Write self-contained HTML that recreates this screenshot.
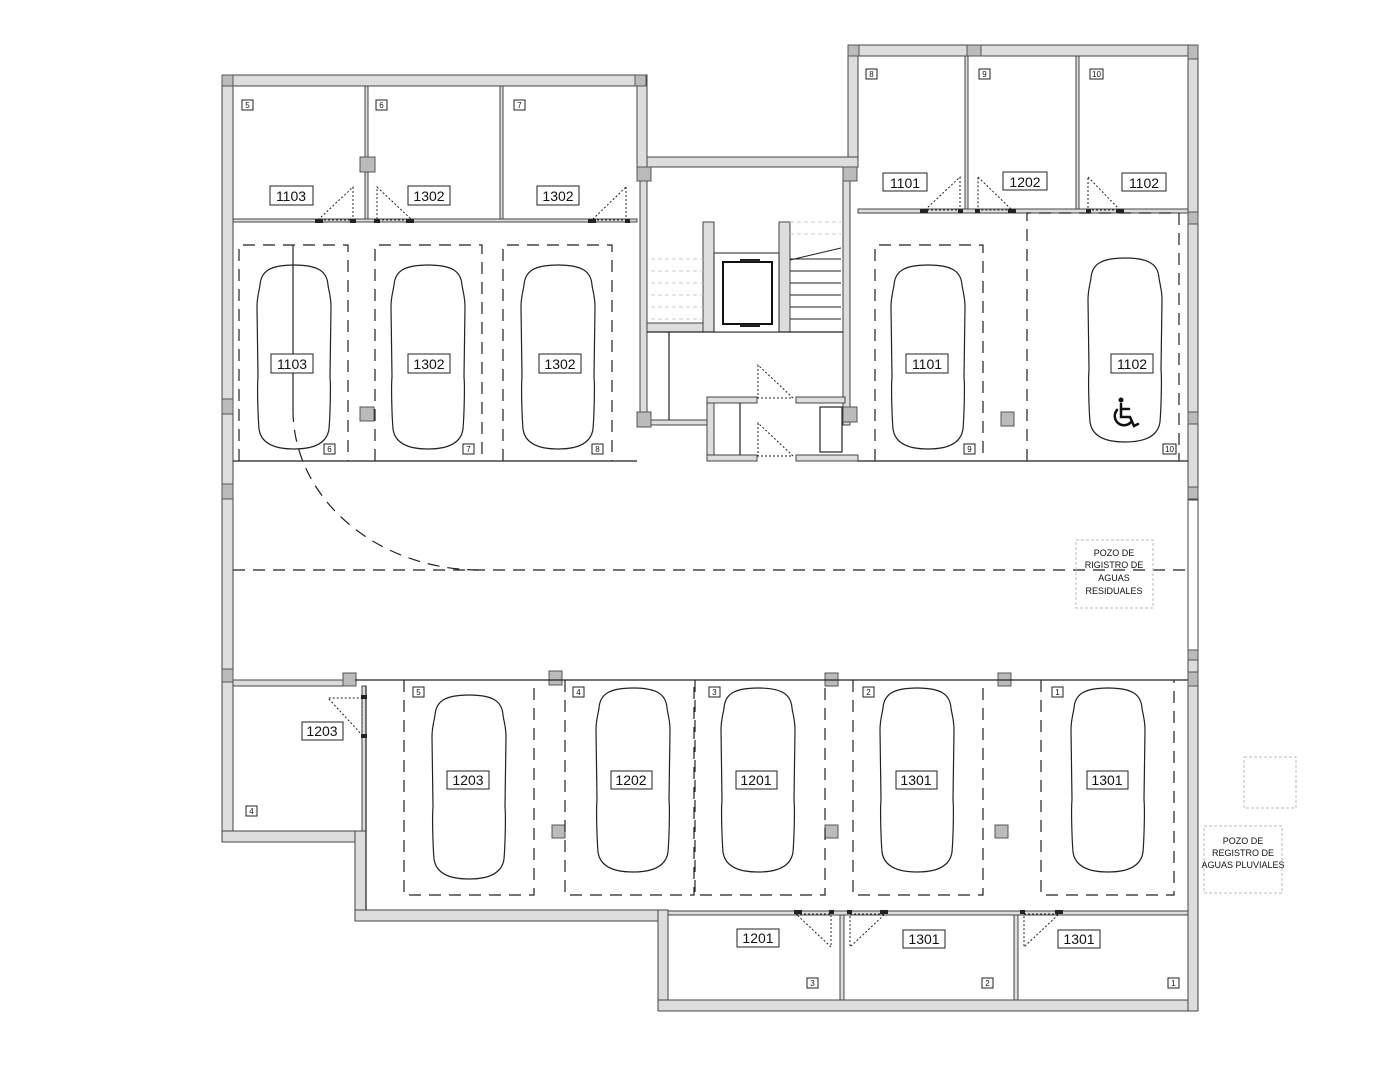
<!DOCTYPE html>
<html><head><meta charset="utf-8"><style>body{margin:0;background:#fff}svg{display:block}text{font-family:"Liberation Sans",sans-serif;fill:#111}</style></head><body>
<svg width="1383" height="1066" viewBox="0 0 1383 1066" xmlns="http://www.w3.org/2000/svg">
<defs>
<path id="car" d="M0,-92 C25,-92 33,-85 34,-72 C35,-65 37,-60 37,-50 L36,20 C37,30 36,60 35,72 C33,86 20,92 0,92 C-20,92 -33,86 -35,72 C-36,60 -37,30 -36,20 L-37,-50 C-37,-60 -35,-65 -34,-72 C-33,-85 -25,-92 0,-92 Z" fill="none" stroke="#222" stroke-width="1.2"/>
</defs>
<g fill="#ddd" stroke="#444" stroke-width="1">
<rect x="222" y="75" width="423" height="11"/>
<rect x="222" y="75" width="11" height="767"/>
<rect x="222" y="831" width="144" height="11"/>
<rect x="355" y="831" width="11" height="90"/>
<rect x="355" y="910" width="313" height="11"/>
<rect x="658" y="910" width="10" height="101"/>
<rect x="658" y="1000" width="540" height="11"/>
<rect x="1188" y="45" width="10" height="966"/>
<rect x="848" y="45" width="350" height="11"/>
<rect x="848" y="45" width="10" height="122"/>
<rect x="637" y="157" width="221" height="10"/>
<rect x="637" y="75" width="10" height="92"/>
<rect x="233" y="219" width="404" height="3"/>
<rect x="365" y="86" width="3" height="133"/>
<rect x="500" y="86" width="3" height="133"/>
<rect x="858" y="209" width="330" height="4"/>
<rect x="965" y="56" width="3" height="153"/>
<rect x="1076" y="56" width="3" height="153"/>
<rect x="233" y="680" width="122" height="6"/>
<rect x="362" y="686" width="4" height="145"/>
<rect x="668" y="911" width="520" height="4"/>
<rect x="840" y="915" width="4" height="85"/>
<rect x="1014" y="915" width="4" height="85"/>
<rect x="640" y="167" width="7" height="258"/>
<rect x="843" y="167" width="7" height="258"/>
<rect x="703" y="222" width="11" height="110"/>
<rect x="779" y="222" width="11" height="110"/>
<rect x="647" y="323" width="56" height="9"/>
<rect x="647" y="420" width="60" height="5"/>
<rect x="707" y="397" width="7" height="64"/>
<rect x="707" y="397" width="50" height="6"/>
<rect x="796" y="397" width="49" height="6"/>
<rect x="707" y="455" width="50" height="6"/>
<rect x="796" y="455" width="62" height="6"/>
</g>
<rect x="1188" y="500" width="10" height="150" fill="#fff" stroke="#444"/>
<g fill="#bbb" stroke="#555" stroke-width="1">
<rect x="222" y="75" width="11" height="11"/><rect x="635" y="75" width="11" height="11"/>
<rect x="360" y="157" width="15" height="15"/>
<rect x="637" y="167" width="14" height="14"/><rect x="843" y="167" width="14" height="14"/>
<rect x="637" y="412" width="14" height="15"/><rect x="843" y="407" width="14" height="15"/>
<rect x="848" y="45" width="11" height="11"/><rect x="967" y="45" width="14" height="11"/><rect x="1188" y="45" width="10" height="14"/>
<rect x="222" y="399" width="11" height="15"/><rect x="222" y="484" width="11" height="15"/><rect x="222" y="669" width="11" height="13"/>
<rect x="1188" y="212" width="10" height="12"/><rect x="1188" y="412" width="10" height="12"/><rect x="1188" y="487" width="10" height="12"/><rect x="1188" y="650" width="10" height="10"/><rect x="1188" y="672" width="10" height="14"/>
<rect x="360" y="407" width="14" height="14"/><rect x="1001" y="412" width="13" height="14"/>
<rect x="343" y="673" width="13" height="13"/><rect x="549" y="671" width="13" height="14"/><rect x="825" y="673" width="13" height="13"/><rect x="998" y="673" width="13" height="13"/>
<rect x="552" y="825" width="13" height="13"/><rect x="825" y="825" width="13" height="13"/><rect x="995" y="825" width="13" height="13"/>
</g>
<g stroke="#222" stroke-width="1.2" fill="none">
<line x1="233" y1="461" x2="637" y2="461"/>
<line x1="858" y1="461" x2="1188" y2="461"/>
<line x1="355" y1="680" x2="1188" y2="680"/>
<line x1="366" y1="686" x2="366" y2="910"/>
<line x1="647" y1="332" x2="843" y2="332"/>
<line x1="669" y1="332" x2="669" y2="420"/>
<rect x="820" y="407" width="22" height="45" fill="#fff"/>
<line x1="740" y1="403" x2="740" y2="455"/>
<g stroke-width="1"><line x1="790" y1="259" x2="841" y2="259"/><line x1="790" y1="271" x2="841" y2="271"/><line x1="790" y1="283" x2="841" y2="283"/><line x1="790" y1="295" x2="841" y2="295"/><line x1="790" y1="307" x2="841" y2="307"/><line x1="790" y1="319" x2="841" y2="319"/><line x1="790" y1="260" x2="841" y2="248"/></g>
<line x1="293" y1="245" x2="293" y2="410"/>
</g>
<rect x="714" y="253" width="65" height="79" fill="#fff" stroke="#222" stroke-width="1"/>
<rect x="723" y="262" width="49" height="62" fill="#fff" stroke="#111" stroke-width="2"/>
<g stroke="#ccc" stroke-width="1" stroke-dasharray="4,3" fill="none">
<line x1="651" y1="259" x2="703" y2="259"/><line x1="651" y1="271" x2="703" y2="271"/><line x1="651" y1="283" x2="703" y2="283"/><line x1="651" y1="295" x2="703" y2="295"/><line x1="651" y1="307" x2="703" y2="307"/><line x1="651" y1="319" x2="703" y2="319"/>
<line x1="790" y1="222" x2="841" y2="222"/><line x1="790" y1="234" x2="841" y2="234"/>
</g>
<g stroke="#222" stroke-width="1.2" fill="none" stroke-dasharray="12,8">
<path d="M239,461 V245 H348 V461"/><path d="M375,461 V245 H482 V461"/><path d="M503,461 V245 H612 V461"/>
<path d="M875,461 V245 H983 V461"/><path d="M1027,461 V213 H1179 V461"/>
<path d="M404,680 V895 H534 V680"/><path d="M565,680 V895 H694 V680"/><path d="M695,680 V895 H825 V680"/><path d="M853,680 V895 H983 V680"/><path d="M1041,680 V895 H1174 V680"/>
<line x1="233" y1="570" x2="1188" y2="570"/>
<path d="M293,410 A187,160 0 0 0 480,570"/>
</g>
<g stroke="#222" stroke-width="1" fill="none" stroke-dasharray="2,2">
<path d="M353,187 L353,220 L318,220 Z"/><path d="M377,187 L412,220 L377,220 Z"/><path d="M626,187 L626,220 L592,220 Z"/>
<path d="M960,177 L960,210 L925,210 Z"/><path d="M978,177 L1012,210 L978,210 Z"/><path d="M1088,177 L1120,210 L1088,210 Z"/>
<path d="M758,365 L758,398 L793,398 Z"/><path d="M758,423 L758,456 L793,456 Z"/>
<path d="M362,698 L362,735 L328,698 Z"/>
<path d="M796,914 L831,914 L831,947 Z"/><path d="M850,914 L885,914 L850,947 Z"/><path d="M1024,914 L1059,914 L1024,947 Z"/>
</g>
<g fill="#222"><rect x="315" y="219" width="8" height="4"/><rect x="350" y="219" width="6" height="4"/><rect x="374" y="219" width="6" height="4"/><rect x="406" y="219" width="8" height="4"/><rect x="588" y="219" width="8" height="4"/><rect x="625" y="219" width="5" height="4"/>
<rect x="920" y="209" width="8" height="4"/><rect x="958" y="209" width="5" height="4"/><rect x="975" y="209" width="5" height="4"/><rect x="1008" y="209" width="8" height="4"/><rect x="1086" y="209" width="5" height="4"/><rect x="1116" y="209" width="8" height="4"/>
<rect x="361" y="695" width="6" height="4"/><rect x="361" y="734" width="6" height="4"/>
<rect x="794" y="910" width="8" height="4"/><rect x="829" y="910" width="5" height="4"/><rect x="847" y="910" width="5" height="4"/><rect x="880" y="910" width="8" height="4"/><rect x="1020" y="910" width="5" height="4"/><rect x="1055" y="910" width="8" height="4"/>
<rect x="740" y="324" width="20" height="3"/><rect x="740" y="259" width="20" height="3"/></g>
<use href="#car" x="294" y="357"/><use href="#car" x="428" y="357"/><use href="#car" x="558" y="357"/>
<use href="#car" x="928" y="357"/><use href="#car" x="1125" y="350"/>
<use href="#car" x="469" y="787"/><use href="#car" x="633" y="780"/><use href="#car" x="758" y="780"/><use href="#car" x="917" y="780"/><use href="#car" x="1108" y="780"/>
<g font-size="14" text-anchor="middle" fill="#fff" stroke="#222" stroke-width="1">
<rect x="270" y="186" width="43" height="19"/><rect x="408" y="186" width="42" height="19"/><rect x="537" y="186" width="42" height="19"/>
<rect x="271" y="354" width="42" height="19"/><rect x="408" y="354" width="42" height="19"/><rect x="539" y="354" width="42" height="19"/>
<rect x="883" y="173" width="44" height="18"/><rect x="1003" y="172" width="44" height="18"/><rect x="1122" y="173" width="44" height="18"/>
<rect x="906" y="354" width="42" height="19"/><rect x="1111" y="354" width="42" height="19"/>
<rect x="302" y="722" width="41" height="18"/><rect x="447" y="771" width="42" height="18"/><rect x="611" y="771" width="41" height="18"/><rect x="736" y="771" width="41" height="18"/><rect x="896" y="771" width="41" height="18"/><rect x="1087" y="771" width="41" height="18"/>
<rect x="737" y="929" width="42" height="18"/><rect x="903" y="930" width="42" height="18"/><rect x="1058" y="930" width="42" height="18"/>
</g>
<g font-size="14" text-anchor="middle">
<text x="291" y="201">1103</text><text x="429" y="201">1302</text><text x="558" y="201">1302</text>
<text x="292" y="369">1103</text><text x="429" y="369">1302</text><text x="560" y="369">1302</text>
<text x="905" y="188">1101</text><text x="1025" y="187">1202</text><text x="1144" y="188">1102</text>
<text x="927" y="369">1101</text><text x="1132" y="369">1102</text>
<text x="322" y="736">1203</text><text x="468" y="785">1203</text><text x="631" y="785">1202</text><text x="756" y="785">1201</text><text x="916" y="785">1301</text><text x="1107" y="785">1301</text>
<text x="758" y="943">1201</text><text x="924" y="944">1301</text><text x="1079" y="944">1301</text>
</g>
<!-- wheelchair icon -->
<g stroke="#111" fill="none" stroke-width="2.5" stroke-linecap="round">
<circle cx="1121" cy="400" r="2.5" fill="#111" stroke="none"/>
<path d="M1121,404 L1121,417 L1130,417 L1134,426 L1138,424"/>
<path d="M1121,409 L1129,409"/>
<path d="M1117,410 A8,8 0 1 0 1131,422"/>
</g>
<g fill="#fff" stroke="#222" stroke-width="1">
<rect x="242" y="100" width="11" height="10"/><rect x="376" y="100" width="11" height="10"/><rect x="514" y="100" width="11" height="10"/>
<rect x="866" y="69" width="11" height="10"/><rect x="979" y="69" width="11" height="10"/><rect x="1090" y="69" width="13" height="10"/>
<rect x="324" y="444" width="11" height="10"/><rect x="463" y="444" width="11" height="10"/><rect x="592" y="444" width="11" height="10"/><rect x="964" y="444" width="11" height="10"/><rect x="1163" y="444" width="13" height="10"/>
<rect x="246" y="806" width="11" height="10"/><rect x="413" y="687" width="11" height="10"/><rect x="573" y="687" width="11" height="10"/><rect x="709" y="687" width="11" height="10"/><rect x="863" y="687" width="11" height="10"/><rect x="1052" y="687" width="11" height="10"/>
<rect x="807" y="978" width="11" height="10"/><rect x="982" y="978" width="11" height="10"/><rect x="1168" y="978" width="11" height="10"/>
</g>
<g font-size="8" text-anchor="middle">
<text x="247.5" y="108">5</text><text x="381.5" y="108">6</text><text x="519.5" y="108">7</text>
<text x="871.5" y="77">8</text><text x="984.5" y="77">9</text><text x="1096.5" y="77">10</text>
<text x="329.5" y="452">6</text><text x="468.5" y="452">7</text><text x="597.5" y="452">8</text><text x="969.5" y="452">9</text><text x="1169.5" y="452">10</text>
<text x="251.5" y="814">4</text><text x="418.5" y="695">5</text><text x="578.5" y="695">4</text><text x="714.5" y="695">3</text><text x="868.5" y="695">2</text><text x="1057.5" y="695">1</text>
<text x="812.5" y="986">3</text><text x="987.5" y="986">2</text><text x="1173.5" y="986">1</text>
</g>
<g fill="none" stroke="#bbb" stroke-width="1" stroke-dasharray="3,2">
<rect x="1076" y="540" width="77" height="68"/><rect x="1244" y="757" width="52" height="51"/><rect x="1204" y="826" width="78" height="67"/>
</g>
<g font-size="9" text-anchor="middle" fill="#333">
<text x="1114" y="556">POZO DE</text><text x="1114" y="568">RIGISTRO DE</text><text x="1114" y="581">AGUAS</text><text x="1114" y="594">RESIDUALES</text>
<text x="1243" y="844">POZO DE</text><text x="1243" y="856">REGISTRO DE</text><text x="1243" y="868">AGUAS PLUVIALES</text>
</g>
</svg>
</body></html>
